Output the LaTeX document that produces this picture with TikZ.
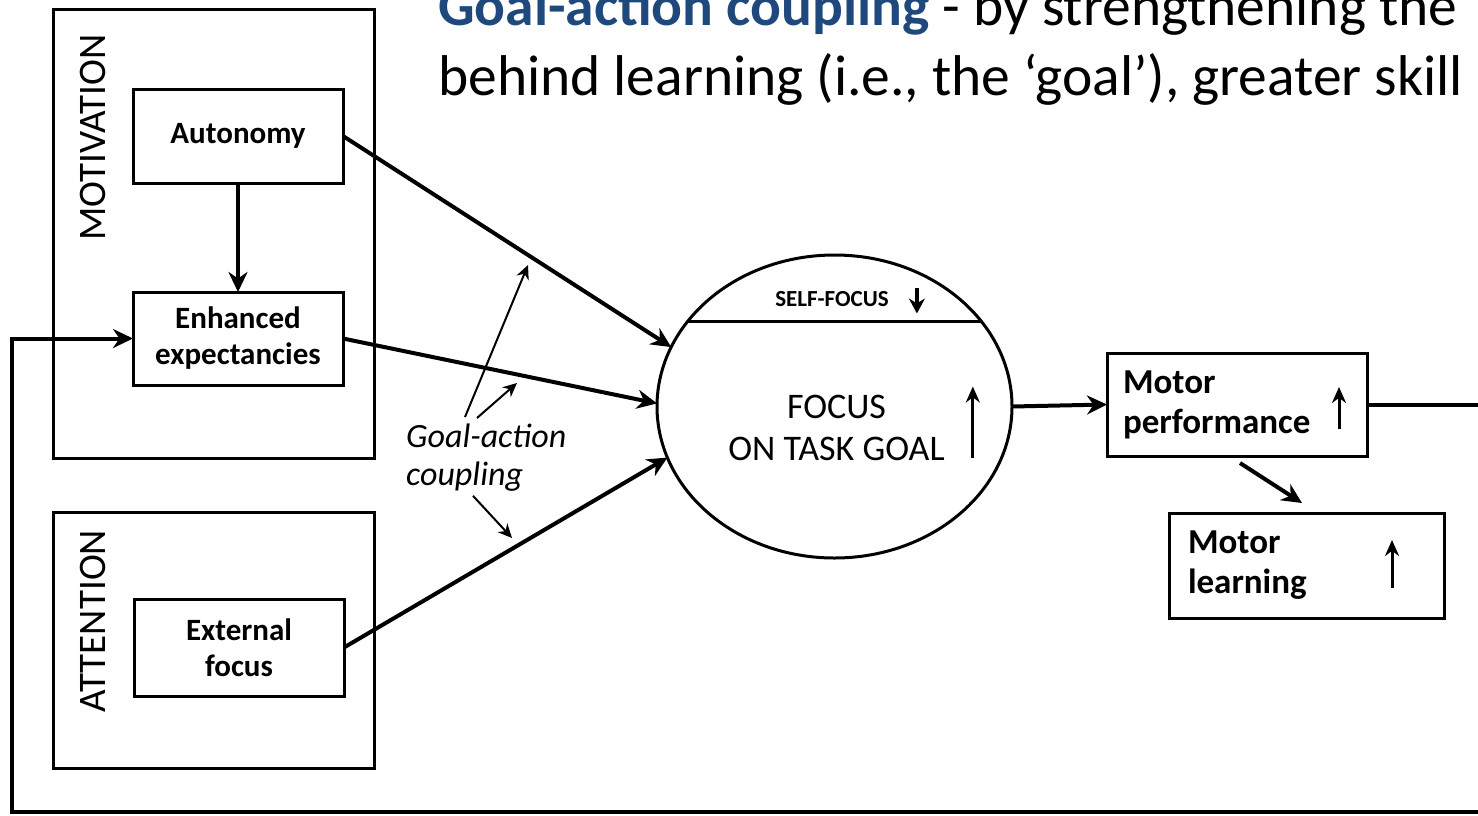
\documentclass[tikz,border=0pt]{standalone}
\usepackage{fontspec}
\setmainfont{Carlito}
\usetikzlibrary{shapes.geometric,arrows.meta}
\definecolor{headblue}{RGB}{31,73,125}

\tikzset{
  panel/.style={draw, line width=3pt, inner sep=0pt, outer sep=0pt},
  factor/.style={draw, line width=3pt, inner sep=0pt, outer sep=0pt, align=center,
    font=\bfseries\fontsize{31}{36}\selectfont},
  outcome/.style={draw, line width=3pt, inner xsep=0pt, inner ysep=0pt, outer sep=0pt, align=left,
    font=\bfseries\fontsize{35}{40}\selectfont},
  sidelabel/.style={rotate=90, inner sep=0pt, font=\fontsize{39}{39}\selectfont},
  slidetext/.style={anchor=base west, inner sep=0pt, font=\fontsize{57.5}{62}\selectfont},
  link/.style={->, line width=4pt},
  updown/.style={-{Stealth[length=16pt,width=14pt]}, line width=3pt},
  thinlink/.style={-{Stealth[length=14pt,width=13pt]}, line width=2pt},
}

\begin{document}
\begin{tikzpicture}[x=1pt, y=-1pt, >={Stealth[length=20pt,width=19pt]}]
  \useasboundingbox (0,0) rectangle (1478,815);

  % slide text above the figure
  \node[slidetext] (head1) at (438,25)
    {\textcolor{headblue}{\bfseries Goal-action coupling} - by strengthening the};
  \node[slidetext] (head2) at (438,95)
    {behind learning (i.e., the ‘goal’), greater skill};

  % motivation and attention panels
  \node[panel, minimum width=321pt, minimum height=449pt] (motiv) at (213.5,233.5) {};
  \node[sidelabel] (motivlab) at (93,137.5) {MOTIVATION};
  \node[panel, minimum width=321pt, minimum height=256pt] (atten) at (213.5,640) {};
  \node[sidelabel] (attenlab) at (93,621) {ATTENTION};

  \node[factor, minimum width=210pt, minimum height=94pt] (auto) at (238,136) {Autonomy};
  \node[factor, minimum width=210pt, minimum height=93pt] (enh) at (238,338.5) {Enhanced\\expectancies};
  \node[factor, minimum width=210pt, minimum height=97pt] (ext) at (239,647.5) {External\\focus};

  % focus on the task goal
  \node[ellipse, draw, line width=3pt, inner sep=0pt, outer sep=0pt,
        minimum width=355pt, minimum height=303pt] (focus) at (834.5,406.5) {};
  \draw[line width=3pt] (focus.150) -- (focus.30);
  \node[inner sep=0pt, font=\bfseries\fontsize{23}{24}\selectfont] (selftxt) at (832,299.5) {SELF-FOCUS};
  \node[inner sep=0pt, align=center, font=\fontsize{36}{42}\selectfont] (focustxt) at (836.5,427.5)
    {FOCUS\\ON TASK GOAL};
  \draw[-{Stealth[length=15pt,width=16pt]}, line width=4pt] ([shift={(28,-12)}]selftxt.east) -- ++(0,26);
  \draw[updown] ([shift={(28,30)}]focustxt.east) -- ++(0,-71);

  % outcomes
  \node[outcome, text width=228pt, minimum width=260pt, minimum height=103pt] (perf) at (1237,404.5)
    {Motor\\performance};
  \node[outcome, text width=237pt, minimum width=275pt, minimum height=105pt] (learn) at (1306.5,565.5)
    {Motor\\learning};
  \draw[updown] ([shift={(-28,24.5)}]perf.east) -- ++(0,-42);
  \draw[updown] ([shift={(-52,22.5)}]learn.east) -- ++(0,-48);

  % main connectors
  \draw[link] (auto) -- (enh);
  \draw[link] (auto.east) -- (focus.160);
  \draw[link] (enh.east) -- (focus.179);
  \draw[link] (ext.east) -- (focus.197);
  \draw[link] (focus.east) -- (perf.west);
  \coordinate (pl1) at (1240,463);
  \coordinate (pl2) at (1302,503);
  \draw[link] (pl1) -- (pl2);

  % goal-action coupling
  \node[anchor=north west, inner sep=0pt, align=left, font=\itshape\fontsize{34}{38}\selectfont] (gac) at (406,424)
    {Goal-action\\coupling};
  \coordinate (gc1) at (528,265);
  \coordinate (gc2) at (517,383);
  \coordinate (gc3) at (512,538);
  \draw[thinlink] ([shift={(59,-7)}]gac.north west) -- (gc1);
  \draw[thinlink] ([shift={(71,-6)}]gac.north west) -- (gc2);
  \draw[thinlink] ([shift={(67,4)}]gac.south west) -- (gc3);

  % feedback loop
  \coordinate (fbR) at (1482,404.5);
  \coordinate (fbB) at (1482,812);
  \coordinate (fbC) at (12,812);
  \draw[line width=4pt] (perf.east) -- (fbR);
  \draw[link] (fbB) -- (fbC) |- (enh.west);
\end{tikzpicture}
\end{document}
